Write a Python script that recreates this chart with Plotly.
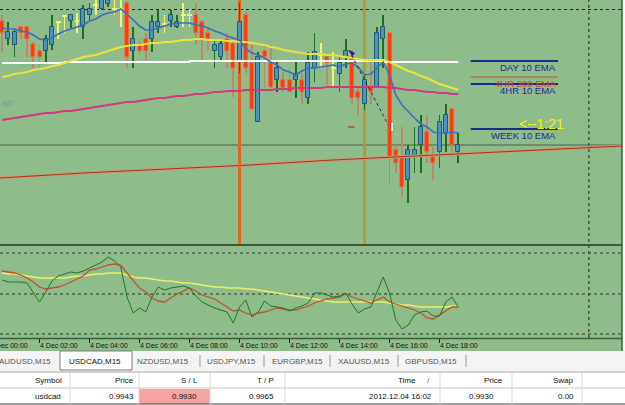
import plotly.graph_objects as go

# ---------------- data ----------------
# 15-minute bars, bar 0 = 4 Dec 00:30
TICK_LABELS = ["4 Dec 00:00", "4 Dec 02:00", "4 Dec 04:00", "4 Dec 06:00", "4 Dec 08:00",
               "4 Dec 10:00", "4 Dec 12:00", "4 Dec 14:00", "4 Dec 16:00", "4 Dec 18:00"]
TICK_BARS = [-2, 6, 14, 22, 30, 38, 46, 54, 62, 70]

OPEN = [0.99548, 0.99512, 0.99500, 0.99536, 0.99536, 0.99502, 0.99488, 0.99488, 0.99500, 0.99546,
        0.99558, 0.99548, 0.99548, 0.99536, 0.99560, 0.99580, 0.99572, 0.99582, 0.99572, 0.99572,
        0.99584, 0.99488, 0.99502, 0.99512, 0.99512, 0.99536, 0.99542, 0.99548, 0.99536, 0.99560,
        0.99560, 0.99560, 0.99546, 0.99524, 0.99488, 0.99476, 0.99512, 0.99502, 0.99466, 0.99560,
        0.99464, 0.99346, 0.99488, 0.99466, 0.99430, 0.99430, 0.99430, 0.99430, 0.99430, 0.99394,
        0.99454, 0.99480, 0.99476, 0.99454, 0.99442, 0.99476, 0.99476, 0.99406, 0.99382, 0.99418,
        0.99416, 0.99512, 0.99524, 0.99290, 0.99276, 0.99230, 0.99276, 0.99300, 0.99326, 0.99276,
        0.99286, 0.99324, 0.99372, 0.99286]
HIGH = [0.99560, 0.99546, 0.99534, 0.99536, 0.99536, 0.99506, 0.99500, 0.99520, 0.99560, 0.99548,
        0.99560, 0.99562, 0.99564, 0.99580, 0.99584, 0.99590, 0.99596, 0.99602, 0.99594, 0.99596,
        0.99588, 0.99536, 0.99512, 0.99524, 0.99560, 0.99570, 0.99560, 0.99570, 0.99560, 0.99584,
        0.99572, 0.99584, 0.99550, 0.99534, 0.99512, 0.99512, 0.99524, 0.99512, 0.99584, 0.99566,
        0.99500, 0.99486, 0.99500, 0.99500, 0.99466, 0.99446, 0.99454, 0.99466, 0.99444, 0.99486,
        0.99524, 0.99504, 0.99480, 0.99486, 0.99480, 0.99512, 0.99490, 0.99416, 0.99440, 0.99466,
        0.99536, 0.99560, 0.99524, 0.99300, 0.99336, 0.99300, 0.99336, 0.99360, 0.99360, 0.99296,
        0.99360, 0.99382, 0.99372, 0.99324]
LOW = [0.99486, 0.99500, 0.99476, 0.99512, 0.99476, 0.99454, 0.99454, 0.99466, 0.99490, 0.99512,
       0.99524, 0.99534, 0.99524, 0.99512, 0.99550, 0.99560, 0.99570, 0.99576, 0.99560, 0.99536,
       0.99454, 0.99454, 0.99476, 0.99466, 0.99486, 0.99524, 0.99524, 0.99536, 0.99534, 0.99536,
       0.99536, 0.99500, 0.99466, 0.99490, 0.99454, 0.99466, 0.99454, 0.99396, 0.99444, 0.99444,
       0.99370, 0.99346, 0.99410, 0.99414, 0.99406, 0.99406, 0.99406, 0.99394, 0.99382, 0.99382,
       0.99426, 0.99454, 0.99420, 0.99416, 0.99406, 0.99454, 0.99382, 0.99360, 0.99370, 0.99382,
       0.99416, 0.99454, 0.99220, 0.99244, 0.99196, 0.99184, 0.99244, 0.99244, 0.99264, 0.99230,
       0.99254, 0.99286, 0.99276, 0.99264]
CLOSE = [0.99524, 0.99526, 0.99526, 0.99524, 0.99512, 0.99476, 0.99476, 0.99512, 0.99536, 0.99546,
         0.99558, 0.99560, 0.99548, 0.99572, 0.99572, 0.99580, 0.99590, 0.99594, 0.99572, 0.99572,
         0.99476, 0.99512, 0.99488, 0.99488, 0.99546, 0.99546, 0.99542, 0.99560, 0.99546, 0.99560,
         0.99560, 0.99524, 0.99512, 0.99512, 0.99500, 0.99502, 0.99488, 0.99454, 0.99546, 0.99454,
         0.99372, 0.99476, 0.99476, 0.99416, 0.99454, 0.99414, 0.99406, 0.99442, 0.99406, 0.99464,
         0.99486, 0.99480, 0.99464, 0.99454, 0.99464, 0.99488, 0.99394, 0.99394, 0.99430, 0.99406,
         0.99524, 0.99536, 0.99276, 0.99264, 0.99216, 0.99290, 0.99290, 0.99336, 0.99286, 0.99264,
         0.99346, 0.99360, 0.99300, 0.99300]

EMA_10 = [0.99534, 0.99532, 0.99532, 0.99528, 0.99526, 0.99520, 0.99512, 0.99510, 0.99514, 0.99522,
          0.99528, 0.99532, 0.99536, 0.99540, 0.99548, 0.99552, 0.99560, 0.99564, 0.99566, 0.99572,
          0.99562, 0.99550, 0.99538, 0.99530, 0.99530, 0.99534, 0.99538, 0.99542, 0.99544, 0.99544,
          0.99544, 0.99540, 0.99538, 0.99534, 0.99528, 0.99524, 0.99518, 0.99514, 0.99510, 0.99492,
          0.99484, 0.99480, 0.99474, 0.99466, 0.99460, 0.99450, 0.99446, 0.99440, 0.99448, 0.99454,
          0.99454, 0.99456, 0.99458, 0.99460, 0.99456, 0.99462, 0.99464, 0.99456, 0.99440, 0.99442,
          0.99454, 0.99466, 0.99440, 0.99400, 0.99380, 0.99366, 0.99354, 0.99342, 0.99336, 0.99326,
          0.99324, 0.99324, 0.99326, 0.99324]
EMA_YELLOW = [0.99436, 0.99438, 0.99442, 0.99444, 0.99446, 0.99450, 0.99452, 0.99454, 0.99458, 0.99460,
              0.99464, 0.99468, 0.99472, 0.99476, 0.99478, 0.99480, 0.99484, 0.99488, 0.99492, 0.99496,
              0.99498, 0.99500, 0.99500, 0.99502, 0.99504, 0.99504, 0.99506, 0.99506, 0.99508, 0.99510,
              0.99510, 0.99512, 0.99512, 0.99510, 0.99510, 0.99510, 0.99508, 0.99508, 0.99506, 0.99506,
              0.99504, 0.99502, 0.99500, 0.99496, 0.99494, 0.99490, 0.99488, 0.99486, 0.99484, 0.99482,
              0.99482, 0.99482, 0.99480, 0.99480, 0.99478, 0.99476, 0.99474, 0.99472, 0.99470, 0.99470,
              0.99470, 0.99470, 0.99466, 0.99460, 0.99454, 0.99448, 0.99444, 0.99438, 0.99434, 0.99428,
              0.99422, 0.99418, 0.99414, 0.99410]
EMA_200 = [0.99350, 0.99352, 0.99354, 0.99356, 0.99358, 0.99360, 0.99362, 0.99364, 0.99364, 0.99366,
           0.99368, 0.99368, 0.99370, 0.99372, 0.99374, 0.99376, 0.99378, 0.99380, 0.99382, 0.99384,
           0.99386, 0.99386, 0.99388, 0.99390, 0.99392, 0.99394, 0.99394, 0.99396, 0.99398, 0.99398,
           0.99400, 0.99402, 0.99402, 0.99404, 0.99406, 0.99406, 0.99408, 0.99408, 0.99408, 0.99410,
           0.99410, 0.99410, 0.99410, 0.99410, 0.99412, 0.99412, 0.99412, 0.99414, 0.99414, 0.99414,
           0.99414, 0.99414, 0.99416, 0.99416, 0.99416, 0.99416, 0.99416, 0.99416, 0.99416, 0.99416,
           0.99416, 0.99416, 0.99414, 0.99414, 0.99412, 0.99410, 0.99410, 0.99408, 0.99406, 0.99406,
           0.99404, 0.99404, 0.99402, 0.99402]
DAY_EMA = [0.99464, 0.99464, 0.99464, 0.99464, 0.99464, 0.99464, 0.99464, 0.99464, 0.99464, 0.99464,
           0.99466, 0.99466, 0.99466, 0.99466, 0.99466, 0.99466, 0.99466, 0.99466, 0.99466, 0.99466,
           0.99466, 0.99466, 0.99466, 0.99466, 0.99466, 0.99466, 0.99466, 0.99466, 0.99466, 0.99466,
           0.99468, 0.99468, 0.99468, 0.99468, 0.99468, 0.99468, 0.99468, 0.99468, 0.99468, 0.99468,
           0.99468, 0.99468, 0.99468, 0.99468, 0.99468, 0.99468, 0.99468, 0.99468, 0.99468, 0.99468,
           0.99468, 0.99468, 0.99468, 0.99468, 0.99468, 0.99468, 0.99468, 0.99468, 0.99468, 0.99468,
           0.99468, 0.99466, 0.99466, 0.99466, 0.99466, 0.99466, 0.99466, 0.99466, 0.99466, 0.99466,
           0.99466, 0.99466, 0.99466, 0.99466]
WEEK_EMA_BARS = [-0.32, 12.96, 26.4, 39.7, 52.96, 66.4, 72.96, 87.7, 99.2]
WEEK_EMA = [0.99234, 0.99244, 0.99252, 0.99260, 0.99270, 0.99278, 0.99282, 0.99290, 0.99298]

SL_PRICE = 0.99300
TOP_LEVEL = 0.99571
VLINE_ORANGE = 38
VLINE_GOLD = 58
VLINE_DOTTED = 93.9
TREND_BARS = [55.5, 61.8]
TREND_PRICES = [0.99490, 0.99340]

LEVEL_LABELS = ["DAY 10 EMA", "4HR 200 EMA", "4HR 10 EMA", "WEEK 10 EMA"]
LEVEL_LINES = [0.99468, 0.99436, 0.99422, 0.99332]
LEVEL_TEXT_Y = [0.99456, 0.99424, 0.99410, 0.99320]
RATIO_TEXT = "<--1:21"
RATIO_Y = 0.99342

OSC_FAST = [57, 56, 56, 56, 55.5, 51, 46, 51, 56.5, 59,
            60, 61, 60.5, 61.5, 63, 64.5, 66, 68.5, 66.5, 63.5,
            48.5, 40.5, 43, 41, 48.5, 53.5, 52, 53, 53.5, 54,
            53, 49, 46, 44.5, 43, 42, 41, 35.5, 43.5, 47,
            38.5, 41, 46.5, 44, 43.5, 43, 41.5, 43, 44, 45.5,
            50.5, 50.5, 49.5, 48.5, 49, 50.5, 45, 40.5, 42.5, 43.5,
            51, 58.5, 50.5, 37, 32.5, 34.5, 39.5, 41, 41.5, 39,
            39, 46, 48.5, 43.5]
OSC_SLOW = [61.5, 61, 60.5, 59.5, 58, 56, 53.5, 52.5, 53, 53.5,
            54.5, 56, 57.5, 59, 62, 62.5, 63.5, 64.5, 65, 64.5,
            60.5, 57, 53, 51, 48, 46.5, 46, 48, 50, 51.5,
            53, 51.5, 49.5, 48.5, 47.5, 45.5, 43.5, 41.5, 42, 40.5,
            39.5, 40.5, 41, 42, 43, 42.5, 42, 42, 43, 44,
            45.5, 46.5, 47.5, 48, 48.5, 50, 48.5, 47.5, 46.5, 45.5,
            47, 48.5, 46, 45, 44, 43, 42, 40.5, 38, 37.5,
            39.5, 41.5, 43.5, 43.5]
OSC_SIGNAL = [60.5, 60, 60, 59.5, 59, 58.5, 58, 58, 58, 58,
              58, 58.5, 59, 59, 59.5, 60, 60, 60.5, 60.5, 60.5,
              59.5, 58.5, 58, 58, 57.5, 57, 56.5, 56.5, 56, 55.5,
              55.5, 55, 54.5, 54, 53.5, 53.5, 53, 53, 53, 52.5,
              52.5, 52, 51.5, 51, 50.5, 50, 49.5, 49, 48.5, 48,
              47.5, 47, 46.5, 46, 46, 46, 46, 46, 46, 46,
              46, 46, 45.5, 45, 44.5, 44.5, 44, 43.5, 43.5, 43.5,
              43.5, 43.5, 44, 44]
OSC_LEVELS = [70.5, 50, 30]

TABS = ["AUDUSD,M15", "USDCAD,M15", "NZDUSD,M15", "USDJPY,M15", "EURGBP,M15", "XAUUSD,M15", "GBPUSD,M15"]
ACTIVE_TAB = 1
HEADERS = ["Symbol", "Price", "S / L", "T / P", "Time", "Price", "Swap"]
ROW = ["usdcad", "0.9943", "0.9930", "0.9965", "2012.12.04 16:02", "0.9930", "0.00"]

# ---------------- layout constants ----------------
W, H = 625, 405
PLOT_W = 622
X0, X1 = -0.32, 99.2
P_TOP, P_BOT = 0.99590, 0.99102
O_TOP, O_BOT = 74, 28
MAIN_BOT_PX, IND_TOP_PX, IND_BOT_PX = 244, 246, 338

BG = "#8FBC8B"
BULL, BULL_EDGE, BULL_WICK = "#4d93c0", "#1f5a6e", "#1f6e1f"
BEAR, BEAR_EDGE, BEAR_WICK = "#ff3a12", "#ff6a3a", "#b88a68"
DOJI = "#f2f27a"
NAVY = "#1c2a8c"
FONT = "Liberation Sans"


def py(p):
    return 1 - p / H


def px(p):
    return p / W


def bar_to_paper(i):
    return (i - X0) / (X1 - X0) * PLOT_W / W


n = len(OPEN)
idx = list(range(n))
bull = [i for i in idx if CLOSE[i] > OPEN[i]]
bear = [i for i in idx if CLOSE[i] < OPEN[i]]
doji = [i for i in idx if CLOSE[i] == OPEN[i]]

fig = go.Figure()


def wick_trace(ids, color):
    return go.Bar(x=ids, base=[LOW[i] for i in ids], y=[HIGH[i] - LOW[i] for i in ids],
                  width=0.16, marker=dict(color=color, line=dict(width=0)),
                  xaxis="x", yaxis="y", hoverinfo="skip", showlegend=False)


fig.add_trace(wick_trace(bull, BULL_WICK))
fig.add_trace(wick_trace(bear, BEAR_WICK))
fig.add_trace(wick_trace(doji, DOJI))
fig.add_trace(go.Bar(x=bull, base=[OPEN[i] for i in bull], y=[CLOSE[i] - OPEN[i] for i in bull],
                     width=0.64, marker=dict(color=BULL, line=dict(color=BULL_EDGE, width=1)),
                     hoverinfo="skip", showlegend=False))
fig.add_trace(go.Bar(x=bear, base=[CLOSE[i] for i in bear], y=[OPEN[i] - CLOSE[i] for i in bear],
                     width=0.64, marker=dict(color=BEAR, line=dict(color=BEAR_EDGE, width=0.6)),
                     hoverinfo="skip", showlegend=False))
fig.add_trace(go.Bar(x=doji, base=[OPEN[i] - 0.00001 for i in doji], y=[0.00002 for _ in doji],
                     width=0.75, marker=dict(color=DOJI, line=dict(width=0)),
                     hoverinfo="skip", showlegend=False))

# moving averages
fig.add_trace(go.Scatter(x=WEEK_EMA_BARS, y=WEEK_EMA, mode="lines",
                         line=dict(color="#c99a74", width=3), hoverinfo="skip", showlegend=False))
fig.add_trace(go.Scatter(x=WEEK_EMA_BARS, y=WEEK_EMA, mode="lines",
                         line=dict(color="#a8321a", width=1), hoverinfo="skip", showlegend=False))
fig.add_trace(go.Scatter(x=idx, y=DAY_EMA, mode="lines", line=dict(color="#ffffff", width=2, shape="hv"),
                         hoverinfo="skip", showlegend=False))
fig.add_trace(go.Scatter(x=idx, y=EMA_YELLOW, mode="lines", line=dict(color="#ece23a", width=2),
                         hoverinfo="skip", showlegend=False))
fig.add_trace(go.Scatter(x=idx, y=EMA_200, mode="lines", line=dict(color="#d2387e", width=2),
                         hoverinfo="skip", showlegend=False))
fig.add_trace(go.Scatter(x=idx, y=EMA_10, mode="lines", line=dict(color="#3a6ec4", width=1.6),
                         hoverinfo="skip", showlegend=False))
fig.add_trace(go.Scatter(x=TREND_BARS, y=TREND_PRICES, mode="lines",
                         line=dict(color="#1a2070", width=1, dash="dot"), hoverinfo="skip", showlegend=False))
fig.add_trace(go.Scatter(x=[TREND_BARS[0]], y=[TREND_PRICES[0]], mode="markers",
                         marker=dict(symbol="arrow", angle=-45, size=7, color="#1a1aa0"),
                         hoverinfo="skip", showlegend=False))

# oscillator
for vals, col, wd in [(OSC_SIGNAL, "#eef06a", 1.5), (OSC_SLOW, "#c0522c", 1.3), (OSC_FAST, "#1c7a1c", 1)]:
    fig.add_trace(go.Scatter(x=idx, y=vals, mode="lines", line=dict(color=col, width=wd),
                             xaxis="x2", yaxis="y2", hoverinfo="skip", showlegend=False))

shapes = []
# green chart background incl. time-label strip
shapes.append(dict(type="rect", xref="paper", yref="paper", x0=0, x1=PLOT_W / W, y0=py(351), y1=1,
                   fillcolor=BG, line=dict(width=0), layer="below"))
# horizontal levels
shapes.append(dict(type="line", xref="x", yref="y", x0=X0, x1=X1, y0=SL_PRICE, y1=SL_PRICE,
                   line=dict(color="#4d5f4a", width=1), layer="below"))
shapes.append(dict(type="line", xref="x", yref="y", x0=X0, x1=X1, y0=TOP_LEVEL, y1=TOP_LEVEL,
                   line=dict(color="#202020", width=1, dash="3px,3px"), layer="below"))
# vertical lines
shapes.append(dict(type="line", xref="x", yref="y", x0=VLINE_ORANGE, x1=VLINE_ORANGE, y0=P_BOT, y1=P_TOP,
                   line=dict(color="#e0651f", width=3), layer="below"))
shapes.append(dict(type="line", xref="x", yref="y", x0=VLINE_GOLD, x1=VLINE_GOLD, y0=P_BOT, y1=P_TOP,
                   line=dict(color="#b89a2c", width=3), layer="below"))
shapes.append(dict(type="line", xref="x", yref="paper", x0=VLINE_DOTTED, x1=VLINE_DOTTED, y0=py(IND_BOT_PX), y1=1,
                   line=dict(color="#202020", width=1, dash="3px,3px"), layer="below"))
# oscillator levels
for lv in OSC_LEVELS:
    shapes.append(dict(type="line", xref="x2", yref="y2", x0=X0, x1=X1, y0=lv, y1=lv,
                       line=dict(color="#303030", width=1, dash="3px,3px"), layer="below"))
# panel separators
shapes.append(dict(type="line", xref="paper", yref="paper", x0=0, x1=PLOT_W / W, y0=py(245), y1=py(245),
                   line=dict(color="#3d5a3d", width=2)))
shapes.append(dict(type="line", xref="paper", yref="paper", x0=0, x1=PLOT_W / W, y0=py(338.5), y1=py(338.5),
                   line=dict(color="#3d5a3d", width=1.5)))
shapes.append(dict(type="line", xref="paper", yref="paper", x0=PLOT_W / W, x1=PLOT_W / W, y0=py(351), y1=1,
                   line=dict(color="#3d5a3d", width=1.5)))
# level label lines
for lvl, col in zip(LEVEL_LINES, [NAVY, "#c0502a", NAVY, NAVY]):
    shapes.append(dict(type="line", xref="x", yref="y", x0=75.0, x1=88.96, y0=lvl, y1=lvl,
                       line=dict(color=col, width=2 if col == NAVY else 1)))
# small marks
shapes.append(dict(type="line", xref="x", yref="y", x0=55.4, x1=56.4, y0=0.99336, y1=0.99336,
                   line=dict(color="#e03a1a", width=1.5)))
shapes.append(dict(type="line", xref="x", yref="y", x0=62.4, x1=62.4, y0=0.99328, y1=0.99344,
                   line=dict(color="#ffffff", width=2)))
# time ticks
for b in TICK_BARS:
    xp = bar_to_paper(b)
    shapes.append(dict(type="line", xref="paper", yref="paper", x0=xp, x1=xp, y0=py(339), y1=py(343),
                       line=dict(color="#202020", width=1)))

annotations = []
for b, t in zip(TICK_BARS, TICK_LABELS):
    annotations.append(dict(xref="paper", yref="paper", x=bar_to_paper(b) - 0.002, y=py(345.5), text=t,
                            showarrow=False, xanchor="left", yanchor="middle",
                            font=dict(family=FONT, size=7, color="#111111")))
for lab, ty, col in zip(LEVEL_LABELS, LEVEL_TEXT_Y, [NAVY, "#e0401c", NAVY, NAVY]):
    annotations.append(dict(xref="x", yref="y", x=88.9, y=ty, text=lab, showarrow=False,
                            xanchor="right", yanchor="middle",
                            font=dict(family=FONT, size=9.5, color=col)))
annotations.append(dict(xref="x", yref="y", x=90.3, y=RATIO_Y, text=RATIO_TEXT, showarrow=False,
                        xanchor="right", yanchor="middle",
                        font=dict(family=FONT, size=14, color="#f4f40a")))
annotations.append(dict(xref="paper", yref="paper", x=0, y=py(103), text="art", showarrow=False,
                        xanchor="left", yanchor="middle", font=dict(family=FONT, size=9, color="#6f9cc0")))

# ---- tab bar ----
TAB_CENTERS = [25, 95, 163, 231, 297, 364, 431]
TAB_SEPS = [200, 264, 330, 398, 466]
shapes.append(dict(type="rect", xref="paper", yref="paper", x0=0, x1=1, y0=py(371), y1=py(351),
                   fillcolor="#f4f4f4", line=dict(width=0), layer="below"))
shapes.append(dict(type="rect", xref="paper", yref="paper", x0=px(60), x1=px(132), y0=py(370), y1=py(351),
                   fillcolor="#ffffff", line=dict(color="#7a7a7a", width=1)))
for s in TAB_SEPS:
    shapes.append(dict(type="line", xref="paper", yref="paper", x0=px(s), x1=px(s), y0=py(367), y1=py(355),
                       line=dict(color="#9a9a9a", width=1)))
for i, (t, c) in enumerate(zip(TABS, TAB_CENTERS)):
    annotations.append(dict(xref="paper", yref="paper", x=px(c), y=py(361), text=t, showarrow=False,
                            xanchor="center", yanchor="middle",
                            font=dict(family=FONT, size=8, color="#111111" if i == ACTIVE_TAB else "#555555")))

# ---- table ----
COL_RIGHT = [64, 136, 200, 276, 418, 505, 576]
ROW_RIGHT = [63, 136, 199, 276, 434, 496, 576]
COL_SEPS = [70, 139, 210, 285, 440, 512, 582]
shapes.append(dict(type="line", xref="paper", yref="paper", x0=0, x1=1, y0=py(372), y1=py(372),
                   line=dict(color="#a0a0a0", width=1)))
shapes.append(dict(type="line", xref="paper", yref="paper", x0=0, x1=1, y0=py(388), y1=py(388),
                   line=dict(color="#c8c8c8", width=1)))
shapes.append(dict(type="rect", xref="paper", yref="paper", x0=px(139), x1=px(210), y0=py(404), y1=py(389),
                   fillcolor="#f5a3a3", line=dict(width=0)))
shapes.append(dict(type="line", xref="paper", yref="paper", x0=0, x1=1, y0=py(404), y1=py(404),
                   line=dict(color="#404040", width=1)))
for s in COL_SEPS:
    shapes.append(dict(type="line", xref="paper", yref="paper", x0=px(s), x1=px(s), y0=py(404), y1=py(373),
                       line=dict(color="#d8d8d8", width=1)))
for t, r in zip(HEADERS, COL_RIGHT):
    annotations.append(dict(xref="paper", yref="paper", x=px(r), y=py(380), text=t, showarrow=False,
                            xanchor="right", yanchor="middle", font=dict(family=FONT, size=8, color="#111111")))
annotations.append(dict(xref="paper", yref="paper", x=px(428), y=py(380), text="/", showarrow=False,
                        xanchor="center", yanchor="middle", font=dict(family=FONT, size=8, color="#555555")))
for t, r in zip(ROW, ROW_RIGHT):
    annotations.append(dict(xref="paper", yref="paper", x=px(r), y=py(396), text=t, showarrow=False,
                            xanchor="right", yanchor="middle", font=dict(family=FONT, size=8, color="#111111")))

fig.update_layout(
    width=W, height=H, margin=dict(l=0, r=0, t=0, b=0),
    paper_bgcolor="#ffffff", plot_bgcolor=BG,
    barmode="overlay", bargap=0,
    xaxis=dict(domain=[0, PLOT_W / W], range=[X0, X1], anchor="y", visible=False, fixedrange=True),
    xaxis2=dict(domain=[0, PLOT_W / W], range=[X0, X1], anchor="y2", matches="x", visible=False),
    yaxis=dict(domain=[py(MAIN_BOT_PX), 1], range=[P_BOT, P_TOP], visible=False),
    yaxis2=dict(domain=[py(IND_BOT_PX), py(IND_TOP_PX)], range=[O_BOT, O_TOP], visible=False),
    shapes=shapes, annotations=annotations,
)

fig.write_html("out.html")
